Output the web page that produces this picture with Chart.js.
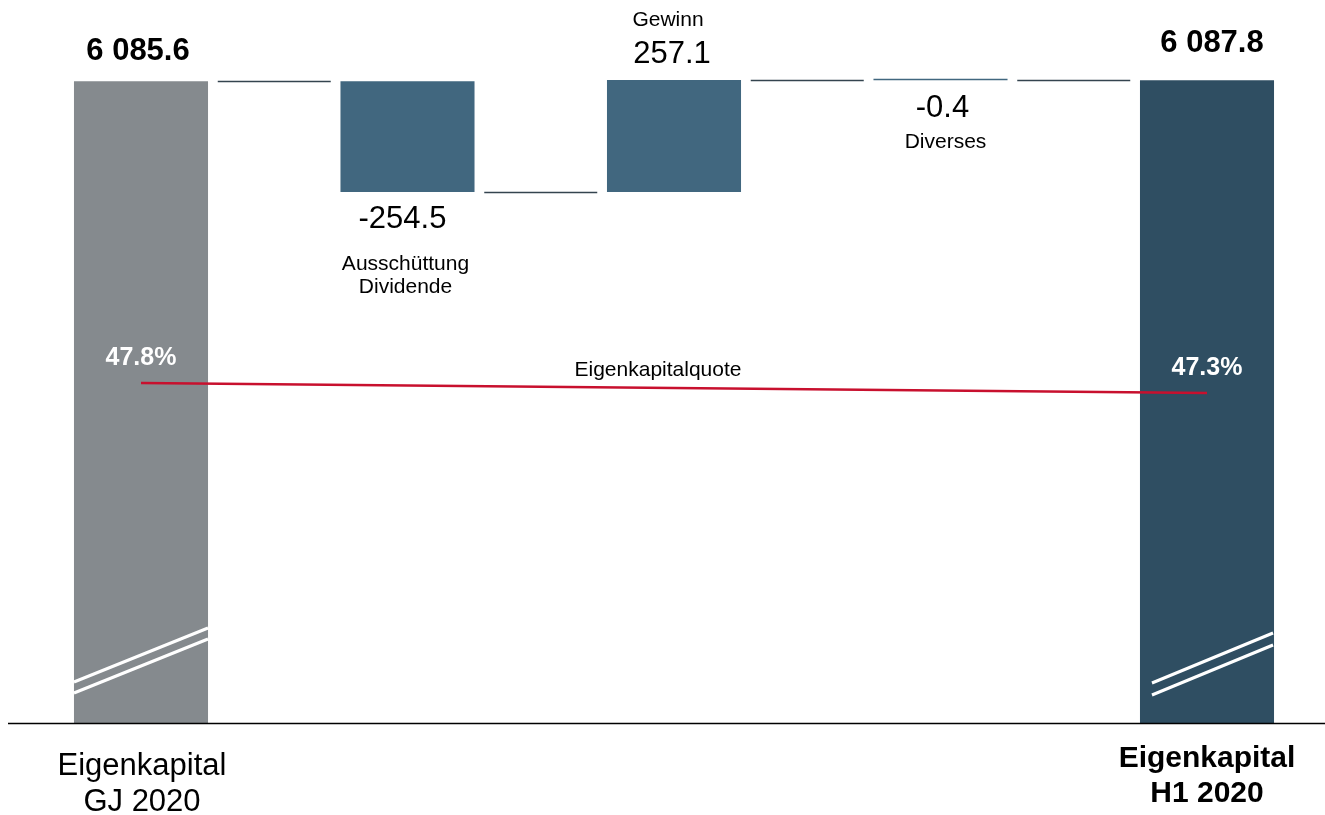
<!DOCTYPE html>
<html>
<head>
<meta charset="utf-8">
<script src="https://cdn.jsdelivr.net/npm/chart.js@4"></script>
<style>
  html, body { margin: 0; padding: 0; background: #ffffff; }
  canvas { display: block; }
</style>
</head>
<body>
<canvas id="eqChart" width="1325" height="815"></canvas>
<script>
// Daten
const categories = ['Eigenkapital GJ 2020', 'Ausschüttung Dividende', 'Gewinn', 'Diverses', 'Eigenkapital H1 2020'];
const labelLines = [['Eigenkapital', 'GJ 2020'], ['Ausschüttung', 'Dividende'], ['Gewinn'], ['Diverses'], ['Eigenkapital', 'H1 2020']];
const totals = [6085.6, null, null, null, 6087.8];
const changes = [null, -254.5, 257.1, -0.4, null];
const equityRatio = [47.8, null, null, null, 47.3];
const ratioLabel = 'Eigenkapitalquote';
const barColors = ['#858a8e', '#41677f', '#41677f', '#41677f', '#2f4e62'];

// Achse ist unterbrochen
const Y_MIN = 4612, Y_MAX = 6272;

// Wasserfall aufbauen
const floating = [];
const levels = [];
let running = 0;
for (let i = 0; i < categories.length; i++) {
  if (totals[i] !== null) {
    floating.push([Y_MIN, totals[i]]);
    running = totals[i];
  } else {
    floating.push([running, running + changes[i]]);
    running = running + changes[i];
  }
  levels.push(running);
}

function fmt(v) {
  const s = Math.abs(v).toFixed(1).split('.');
  const int = s[0].replace(/\B(?=(\d{3})+(?!\d))/g, ' ');
  return (v < 0 ? '-' : '') + int + '.' + s[1];
}

const FONT = '"Liberation Sans", Arial, Helvetica, sans-serif';

const decor = {
  id: 'decor',
  afterDatasetsDraw(chart) {
    const ctx = chart.ctx;
    const x = chart.scales.x, y = chart.scales.y;
    const area = chart.chartArea;
    const bars = chart.getDatasetMeta(1).data;
    const pts = chart.getDatasetMeta(0).data;
    const step = x.getPixelForValue(1) - x.getPixelForValue(0);

    ctx.save();
    // Verbindungslinien
    ctx.strokeStyle = '#34444f';
    ctx.lineWidth = 1.5;
    for (let i = 0; i < categories.length - 1; i++) {
      const cx = x.getPixelForValue(i + 0.5);
      const yy = Math.round(y.getPixelForValue(levels[i])) + 0.5;
      ctx.beginPath();
      ctx.moveTo(cx - step * 0.212, yy);
      ctx.lineTo(cx + step * 0.212, yy);
      ctx.stroke();
    }

    // Bruchzeichen
    ctx.strokeStyle = '#ffffff';
    ctx.lineWidth = 3;
    const b = area.bottom;
    [[0, 0, 0, 41, 95, 30, 84], [4, 12, 1, 40, 90, 28, 78]].forEach(function (m) {
      const bar = bars[m[0]];
      const l = bar.x - bar.width / 2 + m[1], r = bar.x + bar.width / 2 - m[2];
      ctx.beginPath();
      ctx.moveTo(l, b - m[3]); ctx.lineTo(r, b - m[4]);
      ctx.moveTo(l, b - m[5]); ctx.lineTo(r, b - m[6]);
      ctx.stroke();
    });

    // Grundlinie
    ctx.strokeStyle = '#000000';
    ctx.lineWidth = 1.5;
    ctx.beginPath();
    ctx.moveTo(8, b + 0.5);
    ctx.lineTo(chart.width, b + 0.5);
    ctx.stroke();

    ctx.fillStyle = '#000000';
    ctx.textAlign = 'center';
    ctx.textBaseline = 'alphabetic';

    // Summen oben
    ctx.font = 'bold 31px ' + FONT;
    ctx.fillText(fmt(totals[0]), bars[0].x - 3, y.getPixelForValue(totals[0]) - 21);
    ctx.fillText(fmt(totals[4]), bars[4].x + 5, y.getPixelForValue(totals[4]) - 28);

    // Dividende
    ctx.font = '31px ' + FONT;
    ctx.fillText(fmt(changes[1]), bars[1].x - 5, y.getPixelForValue(levels[1]) + 36);
    ctx.font = '21px ' + FONT;
    ctx.fillText(labelLines[1][0], bars[1].x - 2, y.getPixelForValue(levels[1]) + 78);
    ctx.fillText(labelLines[1][1], bars[1].x - 2, y.getPixelForValue(levels[1]) + 101);

    // Gewinn
    ctx.fillText(labelLines[2][0], bars[2].x - 6, y.getPixelForValue(levels[2]) - 54);
    ctx.font = '31px ' + FONT;
    ctx.fillText(fmt(changes[2]), bars[2].x - 2, y.getPixelForValue(levels[2]) - 17);

    // Diverses
    ctx.fillText(fmt(changes[3]), bars[3].x + 2, y.getPixelForValue(levels[3]) + 37);
    ctx.font = '21px ' + FONT;
    ctx.fillText(labelLines[3][0], bars[3].x + 5, y.getPixelForValue(levels[3]) + 68);

    // Eigenkapitalquote
    ctx.fillText(ratioLabel, (pts[0].x + pts[4].x) / 2 - 16, (pts[0].y + pts[4].y) / 2 - 12);
    ctx.fillStyle = '#ffffff';
    ctx.font = 'bold 25px ' + FONT;
    ctx.fillText(equityRatio[0].toFixed(1) + '%', pts[0].x, pts[0].y - 18);
    ctx.fillText(equityRatio[4].toFixed(1) + '%', pts[4].x, pts[4].y - 18);

    // Kategorien unten
    ctx.fillStyle = '#000000';
    ctx.font = '31px ' + FONT;
    ctx.fillText(labelLines[0][0], bars[0].x + 1, b + 52);
    ctx.fillText(labelLines[0][1], bars[0].x + 1, b + 88);
    ctx.font = 'bold 30px ' + FONT;
    ctx.fillText(labelLines[4][0], bars[4].x, b + 44);
    ctx.fillText(labelLines[4][1], bars[4].x, b + 79);
    ctx.restore();
  }
};

const eqChart = new Chart(document.getElementById('eqChart').getContext('2d'), {
  type: 'bar',
  data: {
    labels: categories,
    datasets: [{
      type: 'line',
      label: ratioLabel,
      data: equityRatio,
      yAxisID: 'yq',
      borderColor: '#c8102e',
      borderWidth: 2.5,
      pointRadius: 0,
      spanGaps: true,
      order: 0
    }, {
      label: 'Eigenkapital',
      data: floating,
      backgroundColor: barColors,
      borderWidth: 0,
      barPercentage: 0.503,
      categoryPercentage: 1,
      minBarLength: 1.5,
      clip: false,
      order: 1
    }]
  },
  options: {
    responsive: false,
    animation: false,
    devicePixelRatio: 1,
    layout: { padding: { left: 141, right: 118, top: 0, bottom: 92 } },
    scales: {
      x: { display: false, offset: false },
      y: { display: false, min: Y_MIN, max: Y_MAX },
      yq: { display: false, position: 'right', min: 30.8, max: 66.95 }
    },
    plugins: {
      legend: { display: false },
      tooltip: { enabled: false }
    }
  },
  plugins: [decor]
});
</script>
</body>
</html>
